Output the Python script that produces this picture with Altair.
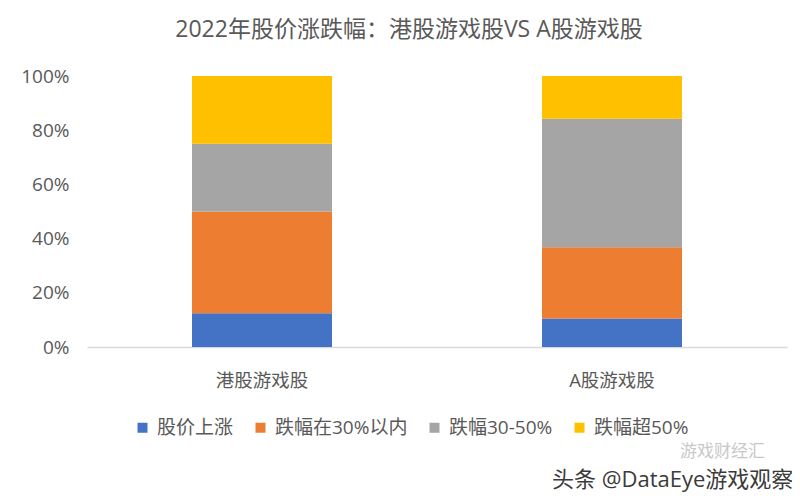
import altair as alt
import pandas as pd

categories = ["港股游戏股", "A股游戏股"]
series = ["股价上涨", "跌幅在30%以内", "跌幅30-50%", "跌幅超50%"]
hk_values = [12.5, 37.5, 25.0, 25.0]
a_values = [10.5, 26.3, 47.4, 15.8]
colors = ["#4472C4", "#ED7D31", "#A5A5A5", "#FFC000"]
y_ticks = [0, 20, 40, 60, 80, 100]

rows = []
for cat, vals in zip(categories, [hk_values, a_values]):
    for i, (s, v) in enumerate(zip(series, vals)):
        rows.append({"category": cat, "series": s, "value": v, "order": i})
df = pd.DataFrame(rows)

FONT = "Open Sans, Noto Sans CJK SC"
TXT = "#595959"

bars = alt.Chart(df).mark_bar().encode(
    x=alt.X("category:N", sort=categories, title=None,
            scale=alt.Scale(paddingInner=0.6, paddingOuter=0.3),
            axis=alt.Axis(labelAngle=0, labelFontSize=18.5, labelColor=TXT,
                          labelFont=FONT, labelPadding=33, ticks=False,
                          labelBaseline="middle",
                          domainColor="#D9D9D9", domainWidth=1.5)),
    y=alt.Y("value:Q", stack="zero", title=None,
            scale=alt.Scale(domain=[0, 100]),
            axis=alt.Axis(values=y_ticks, labelExpr="datum.value + '%'",
                          labelFontSize=19, labelColor=TXT, labelFont=FONT,
                          grid=False, domain=False, ticks=False, labelPadding=18)),
    color=alt.Color("series:N", sort=series,
                    scale=alt.Scale(domain=series, range=colors),
                    legend=alt.Legend(title=None, orient="none", direction="horizontal",
                                      legendX=46, legendY=342, symbolType="square",
                                      symbolSize=100, symbolStrokeWidth=0,
                                      labelFontSize=19, labelColor=TXT,
                                      labelFont=FONT, columnPadding=17,
                                      labelOffset=5)),
    order=alt.Order("order:Q"),
)

wm_df = pd.DataFrame({"t": ["头条 @DataEye游戏观察"]})
watermark = alt.Chart(wm_df).mark_text(
    align="left", baseline="middle", fontSize=22, color="#3a3a3a", font=FONT
).encode(text="t:N", x=alt.value(465), y=alt.value(404))

wm2_df = pd.DataFrame({"t": ["游戏财经汇"]})
watermark2 = alt.Chart(wm2_df).mark_text(
    align="left", baseline="middle", fontSize=17, color="#c8c8c8", font=FONT
).encode(text="t:N", x=alt.value(593), y=alt.value(376))

chart = alt.layer(bars, watermark, watermark2).properties(
    width=700, height=271,
    title=alt.Title("2022年股价涨跌幅：港股游戏股VS A股游戏股", fontSize=23,
                    color=TXT, font=FONT, fontWeight="normal",
                    anchor="middle", dx=-28, offset=25),
    autosize=alt.AutoSizeParams(type="none"),
    padding={"left": 79, "top": 68, "right": 5, "bottom": 150},
    background="white",
).configure_view(stroke=None)

chart.save("out.html", embed_options={"renderer": "svg", "actions": False})
